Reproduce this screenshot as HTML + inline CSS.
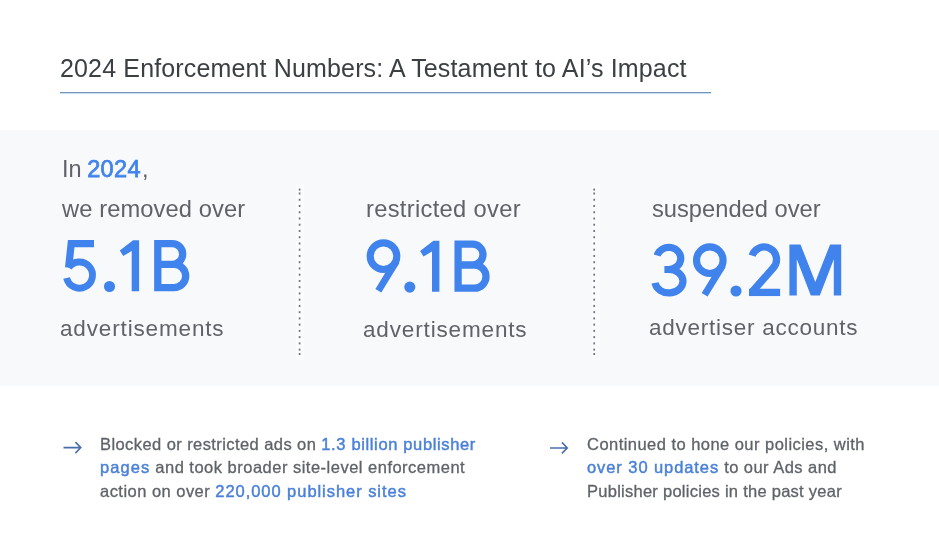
<!DOCTYPE html>
<html><head><meta charset="utf-8">
<style>
html,body{margin:0;padding:0;}
body{width:939px;height:550px;overflow:hidden;background:#ffffff;position:relative;font-family:"Liberation Sans",sans-serif;}
.a{position:absolute;white-space:nowrap;line-height:1;will-change:transform;}
.title{left:60px;top:56.4px;font-size:25px;letter-spacing:0.15px;color:#3c4043;}
.uline1{position:absolute;left:60px;top:92px;width:651px;height:1px;background:#7695b8;}
.uline2{position:absolute;left:60px;top:93px;width:651px;height:1px;background:#c5dff5;}
.panel{position:absolute;left:0;top:130px;width:939px;height:256px;background:#f8f9fa;}
.g{color:#5f6368;}
.b{color:#4083ec;}
.s1{font-size:23.7px;}
.s2{font-size:22.5px;}
.para{position:absolute;font-size:16.5px;line-height:1;color:#5f6368;white-space:nowrap;will-change:transform;-webkit-text-stroke:0.3px #5f6368;}
.para b{font-weight:normal;color:#4a80d8;-webkit-text-stroke:0.45px #4a80d8;}
svg.full{position:absolute;left:0;top:0;}
</style></head><body>
<div class="a title">2024 Enforcement Numbers: A Testament to AI’s Impact</div>
<div class="uline1"></div><div class="uline2"></div>
<div class="panel"></div>

<div class="a g" style="left:61.5px;top:157.7px;font-size:23.5px;word-spacing:-1px;">In <b class="b" style="letter-spacing:0.35px;font-weight:normal;-webkit-text-stroke:0.75px #4083ec;">2024</b><span style="margin-left:1.2px">,</span></div>
<div class="a s1 g" style="left:62px;top:197.7px;letter-spacing:0.1px;">we removed over</div>
<div class="a s2 g" style="left:60px;top:318.1px;letter-spacing:0.85px;">advertisements</div>

<div class="a s1 g" style="left:366px;top:197.7px;letter-spacing:0.32px;">restricted over</div>
<div class="a s2 g" style="left:363px;top:319.2px;letter-spacing:0.85px;">advertisements</div>

<div class="a s1 g" style="left:652px;top:198px;">suspended over</div>
<div class="a s2 g" style="left:649px;top:317.4px;letter-spacing:0.75px;">advertiser accounts</div>

<svg class="full" width="939" height="550" viewBox="0 0 939 550">
 
 <!-- 5.1B -->
 <path d="M94,243.6 H71.2 L68.64,267.63" fill="none" stroke="#4083ec" stroke-width="7.3" stroke-linejoin="miter"/>
 <path d="M68.64,267.63 A13.1,13.1 0 1 1 66.64,278.05" fill="none" stroke="#4083ec" stroke-width="6.9"/>
 <circle cx="109.5" cy="286.5" r="5.55" fill="#4083ec"/><polygon points="133.1,240.2 139.1,240.2 139.1,291.2 131.7,291.2 131.7,251.0 123.2,255.9 119.8,250.4" fill="#4083ec"/><path d="M157.8,264.4 H174.1 A11.6,11.6 0 0 1 174.1,287.6 H157.8 V243.6 H172.3 A10.4,10.4 0 0 1 172.3,264.4 H157.8" fill="none" stroke="#4083ec" stroke-width="7.3" stroke-linejoin="miter"/>
 <!-- 9.1B -->
 <circle cx="383.5" cy="256.2" r="13.3" fill="none" stroke="#4083ec" stroke-width="7.1"/><path d="M396.3,261.4 L378.35,290.8" stroke="#4083ec" stroke-width="6.9" fill="none"/>
 <g transform="translate(300.3,0.6)"><circle cx="109.5" cy="286.5" r="5.55" fill="#4083ec"/><polygon points="133.1,240.2 139.1,240.2 139.1,291.2 131.7,291.2 131.7,251.0 123.2,255.9 119.8,250.4" fill="#4083ec"/><path d="M157.8,264.4 H174.1 A11.6,11.6 0 0 1 174.1,287.6 H157.8 V243.6 H172.3 A10.4,10.4 0 0 1 172.3,264.4 H157.8" fill="none" stroke="#4083ec" stroke-width="7.3" stroke-linejoin="miter"/></g>
 <!-- 39.2M -->
 <path d="M657.19,255.47 A12,11.07 0 1 1 668.75,269.5 H664.4 M664.4,269.5 H668.95 A14,11.7 0 1 1 655.09,282.83" fill="none" stroke="#4083ec" stroke-width="7.2"/>
 <g transform="translate(326.3,4)"><circle cx="383.5" cy="256.2" r="13.3" fill="none" stroke="#4083ec" stroke-width="7.1"/><path d="M396.3,261.4 L378.35,290.8" stroke="#4083ec" stroke-width="6.9" fill="none"/></g>
 <circle cx="736" cy="291" r="5.55" fill="#4083ec"/>
 <path d="M752.11,255.64 A12.5,12.5 0 1 1 773.36,267.78 L752.43,291.5" fill="none" stroke="#4083ec" stroke-width="7.3"/>
 <rect x="749" y="288.75" width="31.1" height="7.3" fill="#4083ec"/>
 <polygon points="789.4,295.6 789.4,244.4 800.5,244.4 815.3,282.0 830.1,244.4 841.2,244.4 841.2,295.6 833.8,295.6 833.8,259.2 819.8,295.6 810.8,295.6 796.8,259.2 796.8,295.6" fill="#4083ec"/>

 <!-- dotted separators -->
 <rect x="296" y="184" width="8" height="176" fill="#fbfcfd"/><rect x="592" y="184" width="8" height="176" fill="#fbfcfd"/>
 
 <g fill="#70747e"><rect x="298.75" y="188.60" width="1.7" height="2"/><rect x="298.75" y="192.50" width="1.7" height="2"/><rect x="298.75" y="198.75" width="1.7" height="2"/><rect x="298.75" y="204.99" width="1.7" height="2"/><rect x="298.75" y="211.24" width="1.7" height="2"/><rect x="298.75" y="217.48" width="1.7" height="2"/><rect x="298.75" y="223.72" width="1.7" height="2"/><rect x="298.75" y="229.97" width="1.7" height="2"/><rect x="298.75" y="236.22" width="1.7" height="2"/><rect x="298.75" y="242.46" width="1.7" height="2"/><rect x="298.75" y="248.70" width="1.7" height="2"/><rect x="298.75" y="254.95" width="1.7" height="2"/><rect x="298.75" y="261.19" width="1.7" height="2"/><rect x="298.75" y="267.44" width="1.7" height="2"/><rect x="298.75" y="273.69" width="1.7" height="2"/><rect x="298.75" y="279.93" width="1.7" height="2"/><rect x="298.75" y="286.18" width="1.7" height="2"/><rect x="298.75" y="292.42" width="1.7" height="2"/><rect x="298.75" y="298.67" width="1.7" height="2"/><rect x="298.75" y="304.91" width="1.7" height="2"/><rect x="298.75" y="311.15" width="1.7" height="2"/><rect x="298.75" y="317.40" width="1.7" height="2"/><rect x="298.75" y="323.64" width="1.7" height="2"/><rect x="298.75" y="329.89" width="1.7" height="2"/><rect x="298.75" y="336.13" width="1.7" height="2"/><rect x="298.75" y="342.38" width="1.7" height="2"/><rect x="298.75" y="348.62" width="1.7" height="2"/><rect x="298.75" y="353.00" width="1.7" height="2"/><rect x="593.35" y="188.60" width="1.7" height="2"/><rect x="593.35" y="192.50" width="1.7" height="2"/><rect x="593.35" y="198.75" width="1.7" height="2"/><rect x="593.35" y="204.99" width="1.7" height="2"/><rect x="593.35" y="211.24" width="1.7" height="2"/><rect x="593.35" y="217.48" width="1.7" height="2"/><rect x="593.35" y="223.72" width="1.7" height="2"/><rect x="593.35" y="229.97" width="1.7" height="2"/><rect x="593.35" y="236.22" width="1.7" height="2"/><rect x="593.35" y="242.46" width="1.7" height="2"/><rect x="593.35" y="248.70" width="1.7" height="2"/><rect x="593.35" y="254.95" width="1.7" height="2"/><rect x="593.35" y="261.19" width="1.7" height="2"/><rect x="593.35" y="267.44" width="1.7" height="2"/><rect x="593.35" y="273.69" width="1.7" height="2"/><rect x="593.35" y="279.93" width="1.7" height="2"/><rect x="593.35" y="286.18" width="1.7" height="2"/><rect x="593.35" y="292.42" width="1.7" height="2"/><rect x="593.35" y="298.67" width="1.7" height="2"/><rect x="593.35" y="304.91" width="1.7" height="2"/><rect x="593.35" y="311.15" width="1.7" height="2"/><rect x="593.35" y="317.40" width="1.7" height="2"/><rect x="593.35" y="323.64" width="1.7" height="2"/><rect x="593.35" y="329.89" width="1.7" height="2"/><rect x="593.35" y="336.13" width="1.7" height="2"/><rect x="593.35" y="342.38" width="1.7" height="2"/><rect x="593.35" y="348.62" width="1.7" height="2"/><rect x="593.35" y="353.00" width="1.7" height="2"/></g>
 <!-- arrows -->
 <path d="M63.5,447.6 H80.3 M75.4,442.1 L80.8,447.6 L75.4,453.1" fill="none" stroke="#4a6ea8" stroke-width="1.55"/>
 <path d="M550,447.9 H566.8 M561.9,442.4 L567.3,447.9 L561.9,453.4" fill="none" stroke="#4a6ea8" stroke-width="1.55"/>
</svg>

<div class="para" style="left:100px;top:435.7px;letter-spacing:0.42px;">Blocked or restricted ads on <b style="letter-spacing:0.64px">1.3 billion publisher</b></div>
<div class="para" style="left:100px;top:459px;letter-spacing:0.49px;"><b style="letter-spacing:1.05px">pages</b> and took broader site-level enforcement</div>
<div class="para" style="left:100px;top:482.8px;letter-spacing:0.47px;">action on over <b style="letter-spacing:0.95px">220,000 publisher sites</b></div>

<div class="para" style="left:587px;top:435.7px;letter-spacing:0.46px;">Continued to hone our policies, with</div>
<div class="para" style="left:587px;top:459px;letter-spacing:0.45px;"><b style="letter-spacing:0.92px">over 30 updates</b> to our Ads and</div>
<div class="para" style="left:587px;top:482.8px;letter-spacing:0.26px;">Publisher policies in the past year</div>
</body></html>
